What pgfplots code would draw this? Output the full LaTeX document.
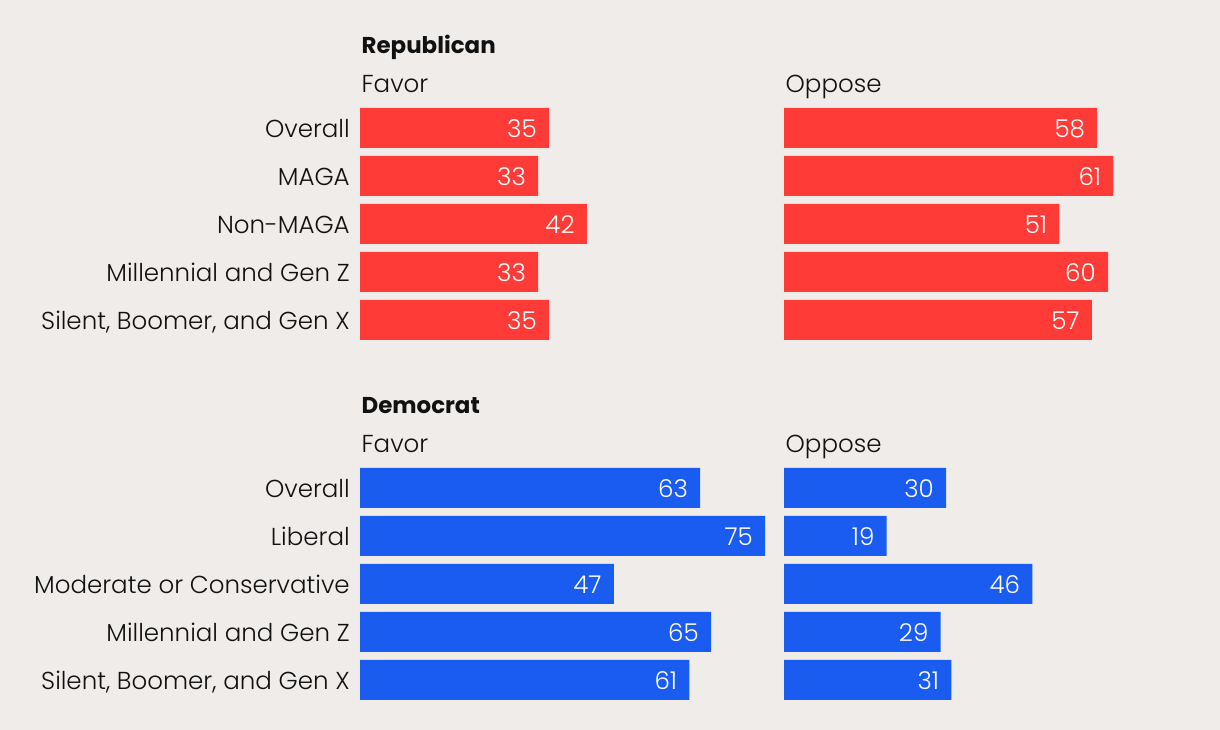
\documentclass[border=0pt]{standalone}
\usepackage{pgfplots}
\pgfplotsset{compat=1.18}
\usepackage{fontspec}
\setmainfont{Poppins}[UprightFont={Poppins Light}, BoldFont={Poppins Bold}]
\definecolor{bg}{RGB}{240,236,233}
\definecolor{rep}{RGB}{255,59,55}
\definecolor{dem}{RGB}{26,92,240}
\definecolor{ink}{RGB}{17,17,17}

% 1 px of the reference = 0.75pt
\newcommand{\lbl}{\fontsize{18.4}{21}\selectfont}
\pgfplotsset{
  panel/.style={
    xbar, x=4.05pt, y=36pt, bar width=30pt,
    xmin=0, ymin=0.5, ymax=5.5, y dir=reverse,
    axis line style={draw=none}, xtick=\empty, ytick style={draw=none},
    major tick length=0pt, clip=false,
    /pgf/number format/assume math mode=true,
    nodes near coords,
    every node near coord/.append style={anchor=base east, font=\lbl,
      text=white, inner sep=0pt, xshift=-9pt, yshift=-7pt},
    yticklabel style={anchor=base east, font=\lbl, text=ink,
      inner sep=0pt, xshift=-7.5pt, yshift=-7pt},
  },
  noticks/.style={ytick=\empty},
}

\begin{document}
\begin{tikzpicture}
\useasboundingbox (0,0) rectangle (915pt,547.5pt);
\fill[bg] (0,0) rectangle (915pt,547.5pt);

\begin{axis}[panel, anchor=north west, at={(270pt,469.5pt)}, xmax=75,
  ytick={1,...,5}, yticklabels={Overall,MAGA,Non-MAGA,Millennial and Gen Z,{Silent, Boomer, and Gen X}}]
\addplot[fill=rep, draw=none] coordinates {(35,1) (33,2) (42,3) (33,4) (35,5)};
\end{axis}

\begin{axis}[panel, noticks, anchor=north west, at={(588pt,469.5pt)}, xmax=62]
\addplot[fill=rep, draw=none] coordinates {(58,1) (61,2) (51,3) (60,4) (57,5)};
\end{axis}

\begin{axis}[panel, anchor=north west, at={(270pt,199.5pt)}, xmax=75,
  ytick={1,...,5}, yticklabels={Overall,Liberal,Moderate or Conservative,Millennial and Gen Z,{Silent, Boomer, and Gen X}}]
\addplot[fill=dem, draw=none] coordinates {(63,1) (75,2) (47,3) (65,4) (61,5)};
\end{axis}

\begin{axis}[panel, noticks, anchor=north west, at={(588pt,199.5pt)}, xmax=62]
\addplot[fill=dem, draw=none] coordinates {(30,1) (19,2) (46,3) (29,4) (31,5)};
\end{axis}

\begin{scope}[every node/.style={anchor=base west, inner sep=0pt, text=ink, font=\lbl}]
\node[font=\bfseries\fontsize{17.2}{20}\selectfont] at (271pt,507pt) {Republican};
\node at (271pt,477.75pt) {Favor};
\node at (589pt,477.75pt) {Oppose};
\node[font=\bfseries\fontsize{17.2}{20}\selectfont] at (271pt,237pt) {Democrat};
\node at (271pt,207.75pt) {Favor};
\node at (589pt,207.75pt) {Oppose};
\end{scope}
\end{tikzpicture}
\end{document}
